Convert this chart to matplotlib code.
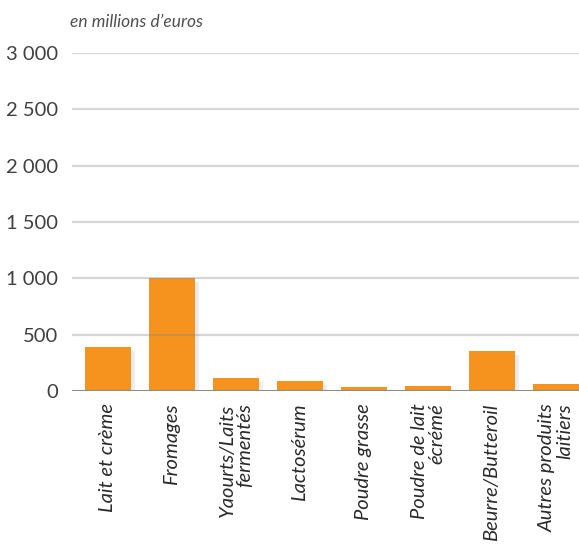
import matplotlib
matplotlib.use('Agg')
import matplotlib.pyplot as plt
import matplotlib.patheffects as pe
import numpy as np

# ── Data ───────────────────────────────────────────────────────────────────
categories = ['Lait et crème', 'Fromages', 'Yaourts/Laits\nfermentés', 'Lactosérum',
              'Poudre grasse', 'Poudre de lait\nécrémé', 'Beurre/Butteroil',
              'Autres produits\nlaitiers']
values = [390, 1005, 115, 88, 35, 45, 355, 62]
yticks = [0, 500, 1000, 1500, 2000, 2500, 3000]
ytick_labels = ['0', '500', '1 000', '1 500', '2 000', '2 500', '3 000']

plt.rcParams['font.family'] = ['Lato', 'DejaVu Sans']
text_col = '#404040'
orange = '#f5931e'

fig = plt.figure(figsize=(5.79, 5.45), dpi=100)
ax = fig.add_axes([72 / 579, 1 - 391 / 545, 1 - 72 / 579, (391 - 53) / 545])

x = np.arange(len(categories))
bars = ax.bar(x, values, width=0.72, color=orange, zorder=2)
for b in bars:
    b.set_path_effects([pe.SimplePatchShadow(offset=(3, -3), shadow_rgbFace='#000000', alpha=0.07),
                        pe.Normal()])

ax.set_xlim(-0.56, 7.36)
ax.set_ylim(0, 3000)
ax.set_yticks(yticks)
ax.set_yticklabels(ytick_labels, fontsize=14.5, color=text_col)
ax.set_xticks(x)
ax.set_xticklabels(categories, rotation=90, fontsize=14.5, style='italic', color='#2a2a2a',
                   ha='center', va='top', multialignment='right', linespacing=1.0)
ax.tick_params(length=0)
ax.tick_params(axis='y', pad=10)
ax.tick_params(axis='x', pad=9)

for yv in yticks[1:]:
    ax.axhline(yv, color='#8a8a8a', alpha=0.35, lw=1.6, zorder=3)
ax.axhline(0, color='#8c8c8c', lw=1.5, zorder=3)

for s in ax.spines.values():
    s.set_visible(False)

fig.text(70 / 579, 1 - 22 / 545, 'en millions d\u2019euros', fontsize=12.5, style='italic',
         color='#505050', va='center', ha='left')

plt.savefig('out.png', dpi=100)
